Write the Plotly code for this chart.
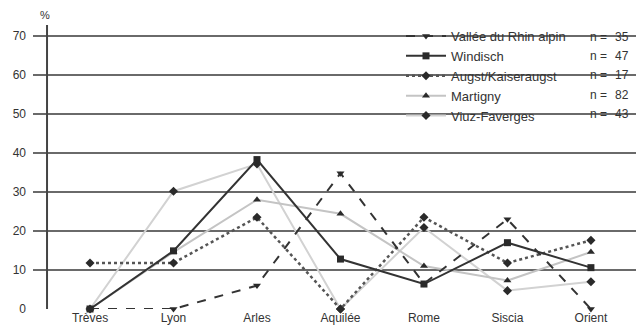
import plotly.graph_objects as go

categories = ["Trèves", "Lyon", "Arles", "Aquilée", "Rome", "Siscia", "Orient"]

vallee = [0, 0, 6, 34.8, 6.5, 23, 0]
windisch = [0, 14.9, 38.3, 12.8, 6.4, 17.0, 10.6]
augst = [11.8, 11.8, 23.5, 0, 23.5, 11.8, 17.6]
martigny = [0, 14.6, 28.0, 24.4, 11.0, 7.3, 14.6]
viuz = [0, 30.2, 37.2, 0, 20.9, 4.7, 7.0]

series_names = ["Vallée du Rhin alpin", "Windisch", "Augst/Kaiseraugst", "Martigny", "Viuz-Faverges"]
series_n = [35, 47, 17, 82, 43]

font_family = "Liberation Sans, Arial, sans-serif"
mark_color = "#2a2a2a"

styles = [
    dict(line=dict(color="#333333", width=2, dash="dash"), symbol="triangle-down"),
    dict(line=dict(color="#333333", width=2), symbol="square"),
    dict(line=dict(color="#555555", width=2.5, dash="dot"), symbol="diamond"),
    dict(line=dict(color="#c4c4c4", width=2), symbol="triangle-up"),
    dict(line=dict(color="#d2d2d2", width=2), symbol="diamond"),
]

fig = go.Figure()

# light series first so the dark lines sit on top
data = [vallee, windisch, augst, martigny, viuz]
for i in [4, 3, 2, 1, 0]:
    st = styles[i]
    fig.add_trace(go.Scatter(
        x=categories, y=data[i], name=series_names[i],
        mode="lines+markers",
        line=st["line"],
        marker=dict(symbol=st["symbol"], size=7, color=mark_color),
        cliponaxis=False,
        legendrank=i + 1,
    ))

# white box behind legend hides the gridlines there
fig.add_shape(type="rect", xref="paper", yref="paper",
              x0=(386 - 33) / 603, x1=1.0, y0=1 - (124 - 25) / 284, y1=1.0,
              fillcolor="white", line=dict(width=0), layer="between")

# vertical y axis line
fig.add_shape(type="line", xref="x", yref="y", x0=-0.515, x1=-0.515, y0=0, y1=72.8,
              line=dict(color="#444444", width=2), layer="above")

fig.add_annotation(text="%", xref="paper", yref="paper", x=(45 - 33) / 603, y=1 + 10 / 284,
                   xanchor="center", yanchor="middle",
                   showarrow=False, font=dict(size=11, color="#333333", family=font_family))

for k in range(5):
    yk = 1 - (37 + k * 19.2 - 25) / 284
    fig.add_annotation(text="n =", xref="paper", yref="paper", x=(598 - 33) / 603, y=yk,
                       xanchor="center", yanchor="middle", showarrow=False,
                       font=dict(size=12, color="#333333", family=font_family))
    fig.add_annotation(text=str(series_n[k]), xref="paper", yref="paper", x=(631 - 33) / 603, y=yk,
                       xanchor="right", yanchor="middle", showarrow=False,
                       font=dict(size=12, color="#333333", family=font_family))

fig.update_layout(
    width=636, height=326,
    margin=dict(l=33, r=0, t=25, b=17),
    plot_bgcolor="white", paper_bgcolor="white",
    font=dict(family=font_family, size=12, color="#333333"),
    showlegend=True,
    legend=dict(x=(401 - 33) / 603, y=1 + 4 / 284, xanchor="left", yanchor="top",
                bgcolor="rgba(0,0,0,0)", font=dict(size=13, color="#333333"),
                traceorder="normal", itemwidth=40, tracegroupgap=0),
    xaxis=dict(range=[-0.683, 6.54], showgrid=False, zeroline=False, showline=False,
               ticks="", tickfont=dict(size=12), automargin=False, ticklabelstandoff=0),
    yaxis=dict(range=[0, 72.8], tickvals=[0, 10, 20, 30, 40, 50, 60, 70],
               showgrid=True, gridcolor="#6a6a6a", gridwidth=1.5, zeroline=False,
               showline=False, ticks="", tickfont=dict(size=12), ticklabelstandoff=6,
               automargin=False),
)

fig.write_html("out.html", config={"displayModeBar": False},
               post_script="document.body.style.margin='0';")
